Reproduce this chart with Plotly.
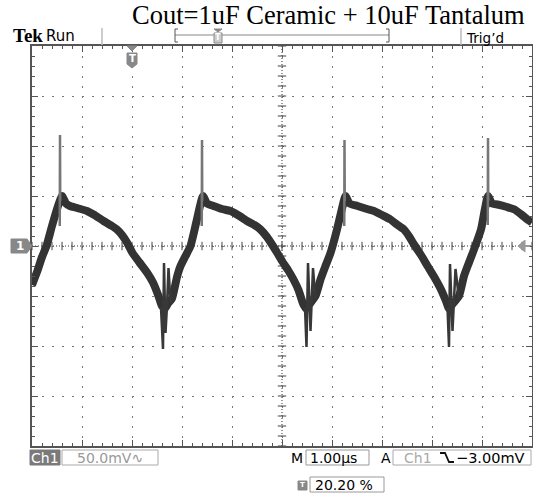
import numpy as np
import plotly.graph_objects as go

# ---------------- data (time in µs, voltage in mV; 1 div = 1 µs / 50 mV) ----------------
t_band = [0.00, 0.10, 0.20, 0.29, 0.40, 0.52, 0.60,
          0.68, 0.76, 0.90, 1.10, 1.25, 1.43, 1.60, 1.70, 1.80, 1.90,
          2.01, 2.15, 2.30, 2.42, 2.53, 2.60, 2.66, 2.72, 2.80, 2.90,
          2.97, 3.07, 3.17, 3.28, 3.36, 3.42,
          3.50, 3.63, 3.80, 3.97, 4.15, 4.30, 4.45, 4.57, 4.70, 4.80,
          4.90, 5.00, 5.12, 5.23, 5.33, 5.42, 5.48, 5.56, 5.67, 5.77,
          5.87, 5.97, 6.10, 6.20, 6.27,
          6.35, 6.51, 6.70, 6.84, 7.00, 7.17, 7.30, 7.44, 7.55, 7.64,
          7.78, 7.91, 8.05, 8.18, 8.28, 8.34, 8.42, 8.54, 8.64, 8.74,
          8.84, 8.98, 9.06, 9.12,
          9.20, 9.31, 9.50, 9.65, 9.80, 9.91, 10.0]
v_band = [-39, -26, -11, 0, 20, 40, 50,
          42.5, 40, 38, 35, 31, 25, 20, 16.5, 11, 3.5,
          -7, -16.5, -26.5, -36.5, -50, -60, -62.5, -57.5, -52.5, -31,
          -20, -10, 0, 22.5, 40, 50,
          42.5, 40, 37, 35, 30, 25, 21, 16.5, 9, 1.5,
          -6.5, -15, -24, -33.5, -44, -57.5, -62.5, -57.5, -50, -33.5,
          -20, -7, 16.5, 37.5, 50,
          42.5, 40, 37, 35, 31, 26.5, 21.5, 16.5, 9, 1.5,
          -9, -20, -31.5, -43.5, -55, -62.5, -57.5, -50, -30, -16.5,
          -3.5, 16.5, 37.5, 50,
          42.5, 41.5, 39, 36.5, 31, 26.5, 23.5]

t_peak_spike = [0.555, 0.56, 0.565, None, 3.395, 3.40, 3.405, None,
                6.245, 6.25, 6.255, None, 9.115, 9.12, 9.125]
v_peak_spike = [20, 111, 45, None, 20, 106, 45, None,
                20, 106, 45, None, 21, 108, 45]

t_dip_spike = [2.58, 2.62, 2.64, 2.67, 2.70, 2.73, 2.77, 2.80, None,
               5.46, 5.49, 5.52, 5.57, 5.62, 5.67, None,
               8.31, 8.34, 8.36, 8.41, 8.47, 8.54]
v_dip_spike = [-62, -103, -17, -87, -60, -22, -57, -52, None,
               -62, -101, -17, -85, -22, -53, None,
               -62, -101, -18, -85, -23, -53]

title_text = "Cout=1uF Ceramic + 10uF Tantalum"
ch_scale = "50.0mV\u223f"
time_base = "1.00\u00b5s"
trig_level = "\u22123.00mV"
trig_pos = "20.20 %"

# ---------------- layout geometry ----------------
W, H = 533, 504
L, R, T, B = 32, 1, 46, 58
PW, PH = W - L - R, H - T - B


def px(x):
    return (x - L) / PW


def py(y):
    return (H - B - y) / PH


SANS = "DejaVu Sans"
fig = go.Figure()

# center cross ticks
fig.add_trace(go.Scatter(x=np.arange(0, 10.001, 0.2), y=np.zeros(51), mode="markers",
                         marker=dict(symbol="line-ns", size=6, line=dict(width=1, color="#444")),
                         hoverinfo="skip", showlegend=False))
fig.add_trace(go.Scatter(x=np.full(41, 5.0), y=np.arange(-200, 200.1, 10), mode="markers",
                         marker=dict(symbol="line-ew", size=6, line=dict(width=1, color="#444")),
                         hoverinfo="skip", showlegend=False))

# waveform
fig.add_trace(go.Scatter(x=t_band, y=v_band, mode="lines",
                         line=dict(color="#333333", width=8, shape="spline", smoothing=0.5),
                         hoverinfo="skip", showlegend=False))
fig.add_trace(go.Scatter(x=t_peak_spike, y=v_peak_spike, mode="lines",
                         line=dict(color="#777777", width=2.5),
                         hoverinfo="skip", showlegend=False))
fig.add_trace(go.Scatter(x=t_dip_spike, y=v_dip_spike, mode="lines",
                         line=dict(color="#383838", width=2.5),
                         hoverinfo="skip", showlegend=False))

shapes = []
# center dotted lines
shapes.append(dict(type="line", xref="x", yref="y", x0=0, x1=10, y0=0, y1=0,
                   line=dict(color="#333", width=1, dash="1px,2px"), layer="below"))
shapes.append(dict(type="line", xref="x", yref="y", x0=5, x1=5, y0=-200, y1=200,
                   line=dict(color="#333", width=1, dash="1px,2px"), layer="below"))


def path(pts, close=True):
    s = "M " + " L ".join(f"{px(a):.5f},{py(b):.5f}" for a, b in pts)
    return s + (" Z" if close else "")


def pshape(pts, fill=None, color="#888", width=1, close=True):
    d = dict(type="path", xref="paper", yref="paper", path=path(pts, close),
             line=dict(color=color, width=width))
    if fill:
        d["fillcolor"] = fill
    return d


def rect(x0, y0, x1, y1, fill=None, color="#999", width=1):
    d = dict(type="rect", xref="paper", yref="paper", x0=px(x0), x1=px(x1), y0=py(y1), y1=py(y0),
             line=dict(color=color, width=width))
    d["fillcolor"] = fill if fill else "rgba(0,0,0,0)"
    return d


# channel 1 ground marker
shapes.append(pshape([(11, 239), (27, 239), (32, 246), (27, 253), (11, 253)], fill="#888", color="#888"))
# trigger level arrow (right)
shapes.append(pshape([(518, 246), (525, 240), (525, 252)], fill="#999", color="#999"))
shapes.append(pshape([(523, 246), (530, 246)], color="#999", width=2, close=False))
# trigger position marker (top)
shapes.append(pshape([(127, 46), (137, 46), (132, 51)], fill="#888", color="#888"))
shapes.append(pshape([(127, 53), (137, 53), (137, 64), (132, 68), (127, 64)], fill="#888", color="#888"))

# header separators and record bracket
shapes.append(pshape([(102, 28), (102, 45)], color="#bbb", width=1.5, close=False))
shapes.append(pshape([(461, 28), (461, 45)], color="#bbb", width=1.5, close=False))
shapes.append(pshape([(175, 35), (389, 35)], color="#888", width=1, close=False))
shapes.append(pshape([(178, 29), (175, 29), (175, 42), (178, 42)], color="#555", width=1, close=False))
shapes.append(pshape([(386, 29), (389, 29), (389, 42), (386, 42)], color="#555", width=1, close=False))
shapes.append(pshape([(214, 29), (222, 29), (218, 32)], fill="#888", color="#888"))
shapes.append(rect(214, 33, 222, 43, fill="#ccc", color="#888"))

# bottom readouts
shapes.append(rect(30, 450, 60, 465, fill="#7a7a7a", color="#7a7a7a"))
shapes.append(rect(62, 450, 158, 465, color="#aaa"))
shapes.append(rect(306, 450, 369, 465, color="#999"))
shapes.append(rect(393, 450, 531, 465, color="#aaa"))
shapes.append(pshape([(440, 453), (445, 453), (449, 462), (454, 462)], color="#111", width=1.8, close=False))
shapes.append(rect(298, 481, 307, 490, fill="#888", color="#888"))
shapes.append(rect(310, 477, 384, 492, color="#999"))

annotations = []


def txt(text, x, y, size=14, color="#000", family=SANS, xanchor="left", bold=False):
    if bold:
        text = f"<b>{text}</b>"
    annotations.append(dict(text=text, x=px(x), y=py(y), xref="paper", yref="paper",
                            xanchor=xanchor, yanchor="middle", showarrow=False,
                            font=dict(family=family, size=size, color=color), borderpad=0))


txt(title_text, 328, 15, size=26.5, family="Liberation Serif", xanchor="center")
txt("Tek", 12, 35.5, size=19, family="Liberation Serif", bold=True)
txt("Run", 45, 36, size=15)
txt("Trig\u2019d", 465, 38, size=13.5)
txt("T", 218, 38, size=8, color="#fff", xanchor="center", bold=True)
txt("T", 132, 59, size=10, color="#fff", xanchor="center", bold=True)
txt("1", 20, 246, size=12, color="#fff", xanchor="center", bold=True)

txt("Ch1", 45, 457.5, size=14, color="#fff", xanchor="center")
txt(ch_scale, 76, 457.5, size=14, color="#999")
txt("M", 290, 457.5, size=14)
txt(time_base, 309, 457.5, size=14)
txt("A", 380, 457.5, size=14)
txt("Ch1", 403, 457.5, size=14, color="#aaa")
txt(trig_level, 455, 457.5, size=14.5)
txt("T", 302.5, 485.5, size=7, color="#fff", xanchor="center", bold=True)
txt(trig_pos, 314, 484.5, size=14)

axis_common = dict(showticklabels=False, showline=True, linecolor="#555", linewidth=2,
                   mirror="ticks", ticks="inside", ticklen=6, tickcolor="#555", tickwidth=1,
                   showgrid=True, gridcolor="#777", gridwidth=1, griddash="2px,8px",
                   zeroline=False, fixedrange=True)

fig.update_layout(
    width=W, height=H,
    margin=dict(l=L, r=R, t=T, b=B, autoexpand=False),
    paper_bgcolor="white", plot_bgcolor="white",
    xaxis=dict(range=[0, 10], dtick=1, tick0=0,
               minor=dict(dtick=0.2, ticks="inside", ticklen=3, tickcolor="#555", showgrid=False),
               **axis_common),
    yaxis=dict(range=[-200, 200], dtick=50, tick0=0,
               minor=dict(dtick=10, ticks="inside", ticklen=3, tickcolor="#555", showgrid=False),
               **axis_common),
    shapes=shapes,
    annotations=annotations,
    showlegend=False,
)

fig.write_html("out.html", config={"displayModeBar": False},
               post_script="document.body.style.margin='0';document.body.style.overflow='hidden';")
